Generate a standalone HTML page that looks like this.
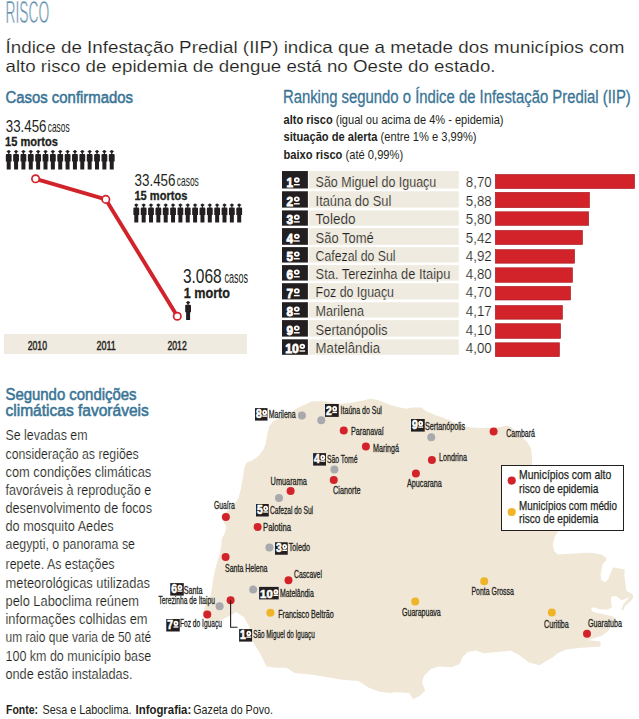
<!DOCTYPE html>
<html><head><meta charset="utf-8"><style>
html,body{margin:0;padding:0;background:#fff;width:639px;height:719px;overflow:hidden}
svg text{font-family:"Liberation Sans", sans-serif}
</style></head><body>
<svg width="639" height="719" viewBox="0 0 639 719" style="position:absolute;left:0;top:0">
<text x="5.5" y="23.2" font-size="31" fill="#5f8dab" textLength="43.8" lengthAdjust="spacingAndGlyphs" stroke="#fff" stroke-width="0.6">RISCO</text><text x="5.5" y="52.7" font-size="16.5" fill="#231f20" textLength="619" lengthAdjust="spacingAndGlyphs" stroke="#fff" stroke-width="0.15">Índice de Infestação Predial (IIP) indica que a metade dos municípios com</text><text x="5.5" y="72" font-size="16.5" fill="#231f20" textLength="490" lengthAdjust="spacingAndGlyphs" stroke="#fff" stroke-width="0.15">alto risco de epidemia de dengue está no Oeste do estado.</text><text x="5.5" y="102.5" font-size="16.8" fill="#3a7596" textLength="127.5" lengthAdjust="spacingAndGlyphs" stroke="#3a7596" stroke-width="0.55">Casos confirmados</text><text x="5.8" y="131.7" font-size="17" fill="#231f20" textLength="40.6" lengthAdjust="spacingAndGlyphs">33.456</text><text x="47.8" y="131.7" font-size="14.8" fill="#231f20" textLength="21.8" lengthAdjust="spacingAndGlyphs">casos</text><text x="5" y="146.3" font-size="12.6" font-weight="bold" fill="#231f20" textLength="53" lengthAdjust="spacingAndGlyphs" stroke="#231f20" stroke-width="0.3">15 mortos</text><text x="134.5" y="186" font-size="17" fill="#231f20" textLength="41" lengthAdjust="spacingAndGlyphs">33.456</text><text x="176.8" y="186" font-size="14.8" fill="#231f20" textLength="22" lengthAdjust="spacingAndGlyphs">casos</text><text x="134.4" y="200" font-size="12.6" font-weight="bold" fill="#231f20" textLength="53" lengthAdjust="spacingAndGlyphs" stroke="#231f20" stroke-width="0.3">15 mortos</text><text x="182.9" y="283" font-size="20.5" fill="#231f20" textLength="38.8" lengthAdjust="spacingAndGlyphs">3.068</text><text x="224.4" y="283" font-size="16.3" fill="#231f20" textLength="23.6" lengthAdjust="spacingAndGlyphs">casos</text><text x="183.75" y="297.8" font-size="15" font-weight="bold" fill="#231f20" textLength="46.25" lengthAdjust="spacingAndGlyphs" stroke="#231f20" stroke-width="0.3">1 morto</text><g fill="#231f20"><circle cx="8.70" cy="151.60" r="1.5"/><rect x="8.10" y="151.60" width="1.2" height="2.50"/><rect x="6.60" y="151.25" width="4.2" height="0.7"/><path d="M5.80 154.90Q5.80 153.90 6.80 153.90H10.60Q11.60 153.90 11.60 154.90V161.40H10.70V169.40H6.70V161.40H5.80Z"/><circle cx="136.30" cy="205.00" r="1.5"/><rect x="135.70" y="205.00" width="1.2" height="2.80"/><rect x="134.20" y="204.65" width="4.2" height="0.7"/><path d="M133.40 208.60Q133.40 207.60 134.40 207.60H138.20Q139.20 207.60 139.20 208.60V215.10H138.30V222.60H134.30V215.10H133.40Z"/><circle cx="16.06" cy="151.60" r="1.5"/><rect x="15.46" y="151.60" width="1.2" height="2.50"/><rect x="13.96" y="151.25" width="4.2" height="0.7"/><path d="M13.16 154.90Q13.16 153.90 14.16 153.90H17.96Q18.96 153.90 18.96 154.90V161.40H18.06V169.40H14.06V161.40H13.16Z"/><circle cx="143.65" cy="205.00" r="1.5"/><rect x="143.05" y="205.00" width="1.2" height="2.80"/><rect x="141.55" y="204.65" width="4.2" height="0.7"/><path d="M140.75 208.60Q140.75 207.60 141.75 207.60H145.55Q146.55 207.60 146.55 208.60V215.10H145.65V222.60H141.65V215.10H140.75Z"/><circle cx="23.42" cy="151.60" r="1.5"/><rect x="22.82" y="151.60" width="1.2" height="2.50"/><rect x="21.32" y="151.25" width="4.2" height="0.7"/><path d="M20.52 154.90Q20.52 153.90 21.52 153.90H25.32Q26.32 153.90 26.32 154.90V161.40H25.42V169.40H21.42V161.40H20.52Z"/><circle cx="151.00" cy="205.00" r="1.5"/><rect x="150.40" y="205.00" width="1.2" height="2.80"/><rect x="148.90" y="204.65" width="4.2" height="0.7"/><path d="M148.10 208.60Q148.10 207.60 149.10 207.60H152.90Q153.90 207.60 153.90 208.60V215.10H153.00V222.60H149.00V215.10H148.10Z"/><circle cx="30.78" cy="151.60" r="1.5"/><rect x="30.18" y="151.60" width="1.2" height="2.50"/><rect x="28.68" y="151.25" width="4.2" height="0.7"/><path d="M27.88 154.90Q27.88 153.90 28.88 153.90H32.68Q33.68 153.90 33.68 154.90V161.40H32.78V169.40H28.78V161.40H27.88Z"/><circle cx="158.35" cy="205.00" r="1.5"/><rect x="157.75" y="205.00" width="1.2" height="2.80"/><rect x="156.25" y="204.65" width="4.2" height="0.7"/><path d="M155.45 208.60Q155.45 207.60 156.45 207.60H160.25Q161.25 207.60 161.25 208.60V215.10H160.35V222.60H156.35V215.10H155.45Z"/><circle cx="38.14" cy="151.60" r="1.5"/><rect x="37.54" y="151.60" width="1.2" height="2.50"/><rect x="36.04" y="151.25" width="4.2" height="0.7"/><path d="M35.24 154.90Q35.24 153.90 36.24 153.90H40.04Q41.04 153.90 41.04 154.90V161.40H40.14V169.40H36.14V161.40H35.24Z"/><circle cx="165.70" cy="205.00" r="1.5"/><rect x="165.10" y="205.00" width="1.2" height="2.80"/><rect x="163.60" y="204.65" width="4.2" height="0.7"/><path d="M162.80 208.60Q162.80 207.60 163.80 207.60H167.60Q168.60 207.60 168.60 208.60V215.10H167.70V222.60H163.70V215.10H162.80Z"/><circle cx="45.50" cy="151.60" r="1.5"/><rect x="44.90" y="151.60" width="1.2" height="2.50"/><rect x="43.40" y="151.25" width="4.2" height="0.7"/><path d="M42.60 154.90Q42.60 153.90 43.60 153.90H47.40Q48.40 153.90 48.40 154.90V161.40H47.50V169.40H43.50V161.40H42.60Z"/><circle cx="173.05" cy="205.00" r="1.5"/><rect x="172.45" y="205.00" width="1.2" height="2.80"/><rect x="170.95" y="204.65" width="4.2" height="0.7"/><path d="M170.15 208.60Q170.15 207.60 171.15 207.60H174.95Q175.95 207.60 175.95 208.60V215.10H175.05V222.60H171.05V215.10H170.15Z"/><circle cx="52.86" cy="151.60" r="1.5"/><rect x="52.26" y="151.60" width="1.2" height="2.50"/><rect x="50.76" y="151.25" width="4.2" height="0.7"/><path d="M49.96 154.90Q49.96 153.90 50.96 153.90H54.76Q55.76 153.90 55.76 154.90V161.40H54.86V169.40H50.86V161.40H49.96Z"/><circle cx="180.40" cy="205.00" r="1.5"/><rect x="179.80" y="205.00" width="1.2" height="2.80"/><rect x="178.30" y="204.65" width="4.2" height="0.7"/><path d="M177.50 208.60Q177.50 207.60 178.50 207.60H182.30Q183.30 207.60 183.30 208.60V215.10H182.40V222.60H178.40V215.10H177.50Z"/><circle cx="60.22" cy="151.60" r="1.5"/><rect x="59.62" y="151.60" width="1.2" height="2.50"/><rect x="58.12" y="151.25" width="4.2" height="0.7"/><path d="M57.32 154.90Q57.32 153.90 58.32 153.90H62.12Q63.12 153.90 63.12 154.90V161.40H62.22V169.40H58.22V161.40H57.32Z"/><circle cx="187.75" cy="205.00" r="1.5"/><rect x="187.15" y="205.00" width="1.2" height="2.80"/><rect x="185.65" y="204.65" width="4.2" height="0.7"/><path d="M184.85 208.60Q184.85 207.60 185.85 207.60H189.65Q190.65 207.60 190.65 208.60V215.10H189.75V222.60H185.75V215.10H184.85Z"/><circle cx="67.58" cy="151.60" r="1.5"/><rect x="66.98" y="151.60" width="1.2" height="2.50"/><rect x="65.48" y="151.25" width="4.2" height="0.7"/><path d="M64.68 154.90Q64.68 153.90 65.68 153.90H69.48Q70.48 153.90 70.48 154.90V161.40H69.58V169.40H65.58V161.40H64.68Z"/><circle cx="195.10" cy="205.00" r="1.5"/><rect x="194.50" y="205.00" width="1.2" height="2.80"/><rect x="193.00" y="204.65" width="4.2" height="0.7"/><path d="M192.20 208.60Q192.20 207.60 193.20 207.60H197.00Q198.00 207.60 198.00 208.60V215.10H197.10V222.60H193.10V215.10H192.20Z"/><circle cx="74.94" cy="151.60" r="1.5"/><rect x="74.34" y="151.60" width="1.2" height="2.50"/><rect x="72.84" y="151.25" width="4.2" height="0.7"/><path d="M72.04 154.90Q72.04 153.90 73.04 153.90H76.84Q77.84 153.90 77.84 154.90V161.40H76.94V169.40H72.94V161.40H72.04Z"/><circle cx="202.45" cy="205.00" r="1.5"/><rect x="201.85" y="205.00" width="1.2" height="2.80"/><rect x="200.35" y="204.65" width="4.2" height="0.7"/><path d="M199.55 208.60Q199.55 207.60 200.55 207.60H204.35Q205.35 207.60 205.35 208.60V215.10H204.45V222.60H200.45V215.10H199.55Z"/><circle cx="82.30" cy="151.60" r="1.5"/><rect x="81.70" y="151.60" width="1.2" height="2.50"/><rect x="80.20" y="151.25" width="4.2" height="0.7"/><path d="M79.40 154.90Q79.40 153.90 80.40 153.90H84.20Q85.20 153.90 85.20 154.90V161.40H84.30V169.40H80.30V161.40H79.40Z"/><circle cx="209.80" cy="205.00" r="1.5"/><rect x="209.20" y="205.00" width="1.2" height="2.80"/><rect x="207.70" y="204.65" width="4.2" height="0.7"/><path d="M206.90 208.60Q206.90 207.60 207.90 207.60H211.70Q212.70 207.60 212.70 208.60V215.10H211.80V222.60H207.80V215.10H206.90Z"/><circle cx="89.66" cy="151.60" r="1.5"/><rect x="89.06" y="151.60" width="1.2" height="2.50"/><rect x="87.56" y="151.25" width="4.2" height="0.7"/><path d="M86.76 154.90Q86.76 153.90 87.76 153.90H91.56Q92.56 153.90 92.56 154.90V161.40H91.66V169.40H87.66V161.40H86.76Z"/><circle cx="217.15" cy="205.00" r="1.5"/><rect x="216.55" y="205.00" width="1.2" height="2.80"/><rect x="215.05" y="204.65" width="4.2" height="0.7"/><path d="M214.25 208.60Q214.25 207.60 215.25 207.60H219.05Q220.05 207.60 220.05 208.60V215.10H219.15V222.60H215.15V215.10H214.25Z"/><circle cx="97.02" cy="151.60" r="1.5"/><rect x="96.42" y="151.60" width="1.2" height="2.50"/><rect x="94.92" y="151.25" width="4.2" height="0.7"/><path d="M94.12 154.90Q94.12 153.90 95.12 153.90H98.92Q99.92 153.90 99.92 154.90V161.40H99.02V169.40H95.02V161.40H94.12Z"/><circle cx="224.50" cy="205.00" r="1.5"/><rect x="223.90" y="205.00" width="1.2" height="2.80"/><rect x="222.40" y="204.65" width="4.2" height="0.7"/><path d="M221.60 208.60Q221.60 207.60 222.60 207.60H226.40Q227.40 207.60 227.40 208.60V215.10H226.50V222.60H222.50V215.10H221.60Z"/><circle cx="104.38" cy="151.60" r="1.5"/><rect x="103.78" y="151.60" width="1.2" height="2.50"/><rect x="102.28" y="151.25" width="4.2" height="0.7"/><path d="M101.48 154.90Q101.48 153.90 102.48 153.90H106.28Q107.28 153.90 107.28 154.90V161.40H106.38V169.40H102.38V161.40H101.48Z"/><circle cx="231.85" cy="205.00" r="1.5"/><rect x="231.25" y="205.00" width="1.2" height="2.80"/><rect x="229.75" y="204.65" width="4.2" height="0.7"/><path d="M228.95 208.60Q228.95 207.60 229.95 207.60H233.75Q234.75 207.60 234.75 208.60V215.10H233.85V222.60H229.85V215.10H228.95Z"/><circle cx="111.74" cy="151.60" r="1.5"/><rect x="111.14" y="151.60" width="1.2" height="2.50"/><rect x="109.64" y="151.25" width="4.2" height="0.7"/><path d="M108.84 154.90Q108.84 153.90 109.84 153.90H113.64Q114.64 153.90 114.64 154.90V161.40H113.74V169.40H109.74V161.40H108.84Z"/><circle cx="239.20" cy="205.00" r="1.5"/><rect x="238.60" y="205.00" width="1.2" height="2.80"/><rect x="237.10" y="204.65" width="4.2" height="0.7"/><path d="M236.30 208.60Q236.30 207.60 237.30 207.60H241.10Q242.10 207.60 242.10 208.60V215.10H241.20V222.60H237.20V215.10H236.30Z"/><circle cx="188.10" cy="302.50" r="1.5"/><rect x="187.50" y="302.50" width="1.2" height="2.45"/><rect x="186.00" y="302.15" width="4.2" height="0.7"/><path d="M185.20 305.75Q185.20 304.75 186.20 304.75H190.00Q191.00 304.75 191.00 305.75V312.25H190.10V320.00H186.10V312.25H185.20Z"/></g><polyline points="35.6,178.8 105.8,199.4 177.3,316.25" fill="none" stroke="#d2232a" stroke-width="3.9" stroke-linejoin="round"/><circle cx="35.6" cy="178.8" r="3.7" fill="#fff" stroke="#d2232a" stroke-width="1.7"/><circle cx="105.8" cy="199.4" r="3.7" fill="#fff" stroke="#d2232a" stroke-width="1.7"/><circle cx="177.3" cy="316.25" r="3.7" fill="#fff" stroke="#d2232a" stroke-width="1.7"/><rect x="4" y="334" width="243" height="20" fill="#f0ebe0"/><text x="27.7" y="350.2" font-size="13.6" fill="#231f20" textLength="19.3" lengthAdjust="spacingAndGlyphs" stroke="#231f20" stroke-width="0.5">2010</text><text x="96.5" y="350.2" font-size="13.6" fill="#231f20" textLength="19.3" lengthAdjust="spacingAndGlyphs" stroke="#231f20" stroke-width="0.5">2011</text><text x="167.5" y="350.2" font-size="13.6" fill="#231f20" textLength="19.2" lengthAdjust="spacingAndGlyphs" stroke="#231f20" stroke-width="0.5">2012</text><text x="282.9" y="103.3" font-size="17.5" fill="#3a7596" textLength="347.9" lengthAdjust="spacingAndGlyphs" stroke="#3a7596" stroke-width="0.3">Ranking segundo o Índice de Infestação Predial (IIP)</text><text x="283.5" y="123.9" font-size="12.4" fill="#231f20" textLength="220" lengthAdjust="spacingAndGlyphs"><tspan font-weight="bold">alto risco</tspan> (igual ou acima de 4% - epidemia)</text><text x="283.5" y="141.3" font-size="12.4" fill="#231f20" textLength="193" lengthAdjust="spacingAndGlyphs"><tspan font-weight="bold">situação de alerta</tspan> (entre 1% e 3,99%)</text><text x="283.5" y="158.8" font-size="12.4" fill="#231f20" textLength="119.7" lengthAdjust="spacingAndGlyphs"><tspan font-weight="bold">baixo risco</tspan> (até 0,99%)</text><rect x="282" y="171.05" width="25.9" height="17.45" fill="#231f20"/><rect x="308.8" y="171.05" width="150" height="17.45" fill="#f0ebe0"/><text x="286.60" y="186.90" font-size="13.43" font-weight="bold" fill="#fff" stroke="#fff" stroke-width="0.8" textLength="6.6" lengthAdjust="spacingAndGlyphs">1</text><ellipse cx="296.80" cy="180.00" rx="2.00" ry="1.75" fill="none" stroke="#fff" stroke-width="1.8"/><rect x="293.90" y="184.00" width="5.80" height="1.4" fill="#fff"/><text x="315.6" y="186.50" font-size="15.4" fill="#231f20" textLength="120.7" lengthAdjust="spacingAndGlyphs" stroke="#f0ebe0" stroke-width="0.2">São Miguel do Iguaçu</text><text x="465.8" y="186.50" font-size="15.4" fill="#231f20" textLength="26" lengthAdjust="spacingAndGlyphs" stroke="#fff" stroke-width="0.2">8,70</text><rect x="495.3" y="174.40" width="139.3" height="14.20" fill="#d2232a" stroke="#a51c22" stroke-width="0.6"/><rect x="282" y="191.26" width="25.9" height="16.34" fill="#231f20"/><rect x="308.8" y="191.26" width="150" height="16.34" fill="#f0ebe0"/><text x="286.60" y="206.00" font-size="13.43" font-weight="bold" fill="#fff" stroke="#fff" stroke-width="0.8" textLength="6.6" lengthAdjust="spacingAndGlyphs">2</text><ellipse cx="296.80" cy="199.10" rx="2.00" ry="1.75" fill="none" stroke="#fff" stroke-width="1.8"/><rect x="293.90" y="203.10" width="5.80" height="1.4" fill="#fff"/><text x="315.6" y="205.60" font-size="15.4" fill="#231f20" textLength="75.7" lengthAdjust="spacingAndGlyphs" stroke="#f0ebe0" stroke-width="0.2">Itaúna do Sul</text><text x="465.8" y="205.60" font-size="15.4" fill="#231f20" textLength="26" lengthAdjust="spacingAndGlyphs" stroke="#fff" stroke-width="0.2">5,88</text><rect x="495.3" y="192.30" width="94.2" height="15.40" fill="#d2232a" stroke="#a51c22" stroke-width="0.6"/><rect x="282" y="210.40" width="25.9" height="15.30" fill="#231f20"/><rect x="308.8" y="210.40" width="150" height="15.30" fill="#f0ebe0"/><text x="286.60" y="224.10" font-size="13.43" font-weight="bold" fill="#fff" stroke="#fff" stroke-width="0.8" textLength="6.6" lengthAdjust="spacingAndGlyphs">3</text><ellipse cx="296.80" cy="217.20" rx="2.00" ry="1.75" fill="none" stroke="#fff" stroke-width="1.8"/><rect x="293.90" y="221.20" width="5.80" height="1.4" fill="#fff"/><text x="315.6" y="223.70" font-size="15.4" fill="#231f20" textLength="39.9" lengthAdjust="spacingAndGlyphs" stroke="#f0ebe0" stroke-width="0.2">Toledo</text><text x="465.8" y="223.70" font-size="15.4" fill="#231f20" textLength="26" lengthAdjust="spacingAndGlyphs" stroke="#fff" stroke-width="0.2">5,80</text><rect x="495.3" y="211.80" width="93.4" height="13.60" fill="#d2232a" stroke="#a51c22" stroke-width="0.6"/><rect x="282" y="228.10" width="25.9" height="16.70" fill="#231f20"/><rect x="308.8" y="228.10" width="150" height="16.70" fill="#f0ebe0"/><text x="286.60" y="243.20" font-size="13.43" font-weight="bold" fill="#fff" stroke="#fff" stroke-width="0.8" textLength="6.6" lengthAdjust="spacingAndGlyphs">4</text><ellipse cx="296.80" cy="236.30" rx="2.00" ry="1.75" fill="none" stroke="#fff" stroke-width="1.8"/><rect x="293.90" y="240.30" width="5.80" height="1.4" fill="#fff"/><text x="315.6" y="242.80" font-size="15.4" fill="#231f20" textLength="58.2" lengthAdjust="spacingAndGlyphs" stroke="#f0ebe0" stroke-width="0.2">São Tomé</text><text x="465.8" y="242.80" font-size="15.4" fill="#231f20" textLength="26" lengthAdjust="spacingAndGlyphs" stroke="#fff" stroke-width="0.2">5,42</text><rect x="495.3" y="230.40" width="87.2" height="14.20" fill="#d2232a" stroke="#a51c22" stroke-width="0.6"/><rect x="282" y="247.10" width="25.9" height="15.45" fill="#231f20"/><rect x="308.8" y="247.10" width="150" height="15.45" fill="#f0ebe0"/><text x="286.60" y="260.95" font-size="13.43" font-weight="bold" fill="#fff" stroke="#fff" stroke-width="0.8" textLength="6.6" lengthAdjust="spacingAndGlyphs">5</text><ellipse cx="296.80" cy="254.05" rx="2.00" ry="1.75" fill="none" stroke="#fff" stroke-width="1.8"/><rect x="293.90" y="258.05" width="5.80" height="1.4" fill="#fff"/><text x="315.6" y="260.55" font-size="15.4" fill="#231f20" textLength="79.9" lengthAdjust="spacingAndGlyphs" stroke="#f0ebe0" stroke-width="0.2">Cafezal do Sul</text><text x="465.8" y="260.55" font-size="15.4" fill="#231f20" textLength="26" lengthAdjust="spacingAndGlyphs" stroke="#fff" stroke-width="0.2">4,92</text><rect x="495.3" y="249.60" width="79.3" height="13.60" fill="#d2232a" stroke="#a51c22" stroke-width="0.6"/><rect x="282" y="265.10" width="25.9" height="15.50" fill="#231f20"/><rect x="308.8" y="265.10" width="150" height="15.50" fill="#f0ebe0"/><text x="286.60" y="279.00" font-size="13.43" font-weight="bold" fill="#fff" stroke="#fff" stroke-width="0.8" textLength="6.6" lengthAdjust="spacingAndGlyphs">6</text><ellipse cx="296.80" cy="272.10" rx="2.00" ry="1.75" fill="none" stroke="#fff" stroke-width="1.8"/><rect x="293.90" y="276.10" width="5.80" height="1.4" fill="#fff"/><text x="315.6" y="278.60" font-size="15.4" fill="#231f20" textLength="134.8" lengthAdjust="spacingAndGlyphs" stroke="#f0ebe0" stroke-width="0.2">Sta. Terezinha de Itaipu</text><text x="465.8" y="278.60" font-size="15.4" fill="#231f20" textLength="26" lengthAdjust="spacingAndGlyphs" stroke="#fff" stroke-width="0.2">4,80</text><rect x="495.3" y="267.80" width="77.2" height="14.50" fill="#d2232a" stroke="#a51c22" stroke-width="0.6"/><rect x="282" y="283.20" width="25.9" height="16.20" fill="#231f20"/><rect x="308.8" y="283.20" width="150" height="16.20" fill="#f0ebe0"/><text x="286.60" y="297.80" font-size="13.43" font-weight="bold" fill="#fff" stroke="#fff" stroke-width="0.8" textLength="6.6" lengthAdjust="spacingAndGlyphs">7</text><ellipse cx="296.80" cy="290.90" rx="2.00" ry="1.75" fill="none" stroke="#fff" stroke-width="1.8"/><rect x="293.90" y="294.90" width="5.80" height="1.4" fill="#fff"/><text x="315.6" y="297.40" font-size="15.4" fill="#231f20" textLength="78.4" lengthAdjust="spacingAndGlyphs" stroke="#f0ebe0" stroke-width="0.2">Foz do Iguaçu</text><text x="465.8" y="297.40" font-size="15.4" fill="#231f20" textLength="26" lengthAdjust="spacingAndGlyphs" stroke="#fff" stroke-width="0.2">4,70</text><rect x="495.3" y="286.40" width="75.3" height="13.60" fill="#d2232a" stroke="#a51c22" stroke-width="0.6"/><rect x="282" y="302.20" width="25.9" height="15.40" fill="#231f20"/><rect x="308.8" y="302.20" width="150" height="15.40" fill="#f0ebe0"/><text x="286.60" y="316.00" font-size="13.43" font-weight="bold" fill="#fff" stroke="#fff" stroke-width="0.8" textLength="6.6" lengthAdjust="spacingAndGlyphs">8</text><ellipse cx="296.80" cy="309.10" rx="2.00" ry="1.75" fill="none" stroke="#fff" stroke-width="1.8"/><rect x="293.90" y="313.10" width="5.80" height="1.4" fill="#fff"/><text x="315.6" y="315.60" font-size="15.4" fill="#231f20" textLength="48.4" lengthAdjust="spacingAndGlyphs" stroke="#f0ebe0" stroke-width="0.2">Marilena</text><text x="465.8" y="315.60" font-size="15.4" fill="#231f20" textLength="26" lengthAdjust="spacingAndGlyphs" stroke="#fff" stroke-width="0.2">4,17</text><rect x="495.3" y="305.50" width="67.2" height="13.70" fill="#d2232a" stroke="#a51c22" stroke-width="0.6"/><rect x="282" y="320.10" width="25.9" height="16.50" fill="#231f20"/><rect x="308.8" y="320.10" width="150" height="16.50" fill="#f0ebe0"/><text x="286.60" y="335.00" font-size="13.43" font-weight="bold" fill="#fff" stroke="#fff" stroke-width="0.8" textLength="6.6" lengthAdjust="spacingAndGlyphs">9</text><ellipse cx="296.80" cy="328.10" rx="2.00" ry="1.75" fill="none" stroke="#fff" stroke-width="1.8"/><rect x="293.90" y="332.10" width="5.80" height="1.4" fill="#fff"/><text x="315.6" y="334.60" font-size="15.4" fill="#231f20" textLength="72.0" lengthAdjust="spacingAndGlyphs" stroke="#f0ebe0" stroke-width="0.2">Sertanópolis</text><text x="465.8" y="334.60" font-size="15.4" fill="#231f20" textLength="26" lengthAdjust="spacingAndGlyphs" stroke="#fff" stroke-width="0.2">4,10</text><rect x="495.3" y="323.70" width="65.3" height="14.70" fill="#d2232a" stroke="#a51c22" stroke-width="0.6"/><rect x="282" y="339.30" width="25.9" height="15.50" fill="#231f20"/><rect x="308.8" y="339.30" width="150" height="15.50" fill="#f0ebe0"/><text x="285.30" y="353.20" font-size="13.43" font-weight="bold" fill="#fff" stroke="#fff" stroke-width="0.8" textLength="13.6" lengthAdjust="spacingAndGlyphs">10</text><ellipse cx="302.30" cy="346.30" rx="1.90" ry="1.75" fill="none" stroke="#fff" stroke-width="1.8"/><rect x="299.50" y="350.30" width="5.60" height="1.4" fill="#fff"/><text x="315.6" y="352.80" font-size="15.4" fill="#231f20" textLength="64.4" lengthAdjust="spacingAndGlyphs" stroke="#f0ebe0" stroke-width="0.2">Matelândia</text><text x="465.8" y="352.80" font-size="15.4" fill="#231f20" textLength="26" lengthAdjust="spacingAndGlyphs" stroke="#fff" stroke-width="0.2">4,00</text><rect x="495.3" y="342.80" width="64.2" height="13.90" fill="#d2232a" stroke="#a51c22" stroke-width="0.6"/><text x="5.5" y="399.5" font-size="15.8" fill="#3a7596" textLength="131" lengthAdjust="spacingAndGlyphs" stroke="#3a7596" stroke-width="0.55">Segundo condições</text><text x="5.5" y="416.25" font-size="15.8" fill="#3a7596" textLength="143.3" lengthAdjust="spacingAndGlyphs" stroke="#3a7596" stroke-width="0.55">climáticas favoráveis</text><text x="5.5" y="440.0" font-size="15.2" fill="#231f20" textLength="82" lengthAdjust="spacingAndGlyphs" stroke="#fff" stroke-width="0.18">Se levadas em</text><text x="5.5" y="458.5" font-size="15.2" fill="#231f20" textLength="133.2" lengthAdjust="spacingAndGlyphs" stroke="#fff" stroke-width="0.18">consideração as regiões</text><text x="5.5" y="476.75" font-size="15.2" fill="#231f20" textLength="145.7" lengthAdjust="spacingAndGlyphs" stroke="#fff" stroke-width="0.18">com condições climáticas</text><text x="5.5" y="494.75" font-size="15.2" fill="#231f20" textLength="145.7" lengthAdjust="spacingAndGlyphs" stroke="#fff" stroke-width="0.18">favoráveis à reprodução e</text><text x="5.5" y="513.0" font-size="15.2" fill="#231f20" textLength="146.5" lengthAdjust="spacingAndGlyphs" stroke="#fff" stroke-width="0.18">desenvolvimento de focos</text><text x="5.5" y="531.0" font-size="15.2" fill="#231f20" textLength="108.2" lengthAdjust="spacingAndGlyphs" stroke="#fff" stroke-width="0.18">do mosquito Aedes</text><text x="5.5" y="549.25" font-size="15.2" fill="#231f20" textLength="129.5" lengthAdjust="spacingAndGlyphs" stroke="#fff" stroke-width="0.18">aegypti, o panorama se</text><text x="5.5" y="569.25" font-size="15.2" fill="#231f20" textLength="109" lengthAdjust="spacingAndGlyphs" stroke="#fff" stroke-width="0.18">repete. As estações</text><text x="5.5" y="587.5" font-size="15.2" fill="#231f20" textLength="144.5" lengthAdjust="spacingAndGlyphs" stroke="#fff" stroke-width="0.18">meteorológicas utilizadas</text><text x="5.5" y="605.5" font-size="15.2" fill="#231f20" textLength="133.5" lengthAdjust="spacingAndGlyphs" stroke="#fff" stroke-width="0.18">pelo Laboclima reúnem</text><text x="5.5" y="623.5" font-size="15.2" fill="#231f20" textLength="142" lengthAdjust="spacingAndGlyphs" stroke="#fff" stroke-width="0.18">informações colhidas em</text><text x="5.5" y="642.25" font-size="15.2" fill="#231f20" textLength="145.7" lengthAdjust="spacingAndGlyphs" stroke="#fff" stroke-width="0.18">um raio que varia de 50 até</text><text x="5.5" y="660.5" font-size="15.2" fill="#231f20" textLength="145.7" lengthAdjust="spacingAndGlyphs" stroke="#fff" stroke-width="0.18">100 km do município base</text><text x="5.5" y="678.5" font-size="15.2" fill="#231f20" textLength="127" lengthAdjust="spacingAndGlyphs" stroke="#fff" stroke-width="0.18">onde estão instaladas.</text><text x="6" y="713.5" font-size="13" fill="#231f20"><tspan font-weight="bold" textLength="32" lengthAdjust="spacingAndGlyphs">Fonte:</tspan></text><text x="42.5" y="713.5" font-size="13" fill="#231f20" textLength="89" lengthAdjust="spacingAndGlyphs">Sesa e Laboclima.</text><text x="135.5" y="713.5" font-size="13" font-weight="bold" fill="#231f20" textLength="55.75" lengthAdjust="spacingAndGlyphs">Infografia:</text><text x="193.25" y="713.5" font-size="13" fill="#231f20" textLength="79.75" lengthAdjust="spacingAndGlyphs">Gazeta do Povo.</text><polygon points="246.3,462.7 252,460.6 259,455.6 263.2,450 265.7,443.8 267.6,432.6 269.4,426 273.2,421.3 282.6,416.6 290,412.5 295.7,409 305,404.4 312.5,401.3 322.5,401.3 340,403.8 352.6,402.5 365.2,400 370.2,398.8 377.7,400 390.3,405 400,407.5 406.3,408.8 412.5,407.5 421.3,407.5 426.3,411.3 435,415 442.5,417.5 450,420.6 460,425 470,427.5 480,428.1 489.2,428.1 500.2,427 506.8,425.4 511.1,427 518.8,434.7 526.5,441.3 530.9,447.9 532,457.6 532,466 556,528 558.1,530.9 554.5,537.2 552.7,544.5 554.5,551.7 558.1,554.4 576.2,553.5 585,552.7 593.5,553.1 601.9,554.8 606.6,558.2 606.1,560.7 602.8,563.7 600.6,573.8 601.1,579.7 605.3,582.3 608.2,578.9 612.9,567.5 624.7,569.2 624.3,575.5 626.4,590.7 632.3,594.1 633.5,596.8 631.1,600.8 627.1,604 624.3,607.2 623.5,610 621.5,610.5 623,605 629.5,597.3 621.5,600.3 615.9,596 611.1,596.8 611.1,602.4 612,607.2 608,609.5 600,609.5 593.6,607.2 591.2,608 592,611.1 596,612.7 604,614.3 614.4,617 612.9,623.3 608.2,631 602,635.7 594.3,638 588.1,640.3 600.5,641.5 600.5,646.5 578.8,648 566.4,649.6 558.6,652.7 552.4,657.4 544.7,662 539.6,665.2 528.9,662.6 518.3,654.6 510.3,650.6 497,651.9 483.7,653.2 475.7,650.6 467.8,651.9 462.4,657.2 459.8,663.9 451.8,667.3 438.5,666.5 430.5,669.2 423.9,675.9 422,682.5 425.2,690.5 419.9,695.8 413.2,699.3 409.3,693.1 396,692.3 390,693.1 379.6,691.8 368.9,687.8 358.3,681.1 342.3,679.8 326.4,677.1 310.4,674.5 294.5,673.1 286.5,667.8 275.9,667.8 266.5,666.5 259.9,653.2 251.9,639.9 249.3,626.6 244,617.3 236,612 229.2,616.1 223.5,618.9 216.5,621.7 210.8,621 205.2,618.9 202.4,613.2 205.2,606.2 210.8,594.9 213.1,580 214.4,573.8 216.3,565 220,552.5 221.3,545 221.9,538.8 225,532.5 226.3,526.3 222.5,520 223.8,513.75 230,508.75 236.3,501.3 238.6,497.9 240.7,489.4 242.8,478.2 244.2,468.3" fill="#f0e7d7"/><circle cx="343.75" cy="430.6" r="4.0" fill="#d2232a"/><circle cx="365.9" cy="446.5" r="4.0" fill="#d2232a"/><circle cx="333.75" cy="480" r="4.0" fill="#d2232a"/><circle cx="431.9" cy="460" r="4.0" fill="#d2232a"/><circle cx="415.9" cy="473.5" r="4.0" fill="#d2232a"/><circle cx="493.6" cy="431.4" r="4.0" fill="#d2232a"/><circle cx="290.6" cy="491" r="4.0" fill="#d2232a"/><circle cx="225.9" cy="516.9" r="4.0" fill="#d2232a"/><circle cx="257.6" cy="526.9" r="4.0" fill="#d2232a"/><circle cx="225.6" cy="557.1" r="4.0" fill="#d2232a"/><circle cx="288.5" cy="580.25" r="4.0" fill="#d2232a"/><circle cx="207.25" cy="614.4" r="4.0" fill="#d2232a"/><circle cx="230.6" cy="600.2" r="4.0" fill="#d2232a"/><circle cx="587" cy="633.7" r="4.0" fill="#d2232a"/><circle cx="301.9" cy="415.6" r="4.0" fill="#a7a9ac"/><circle cx="321.25" cy="420.25" r="4.0" fill="#a7a9ac"/><circle cx="334.4" cy="469.4" r="4.0" fill="#a7a9ac"/><circle cx="431.25" cy="437.25" r="4.0" fill="#a7a9ac"/><circle cx="279" cy="498.1" r="4.0" fill="#a7a9ac"/><circle cx="269.4" cy="547.4" r="4.0" fill="#a7a9ac"/><circle cx="253.2" cy="589.6" r="4.0" fill="#a7a9ac"/><circle cx="219.6" cy="606.2" r="4.0" fill="#a7a9ac"/><circle cx="270.4" cy="612.7" r="4.0" fill="#f0b428"/><circle cx="415.2" cy="601.6" r="4.0" fill="#f0b428"/><circle cx="484.2" cy="581.25" r="4.0" fill="#f0b428"/><circle cx="551.8" cy="612.6" r="4.0" fill="#f0b428"/><polyline points="230.6,600.2 230.6,627.2 237.5,627.2" fill="none" stroke="#231f20" stroke-width="1.1"/><text x="268.75" y="418.0" font-size="10.4" fill="#231f20" textLength="26.85" lengthAdjust="spacingAndGlyphs" stroke="#231f20" stroke-width="0.3">Marilena</text><text x="340.6" y="414.25" font-size="10.4" fill="#231f20" textLength="41.3" lengthAdjust="spacingAndGlyphs" stroke="#231f20" stroke-width="0.3">Itaúna do Sul</text><text x="351" y="434.5" font-size="10.4" fill="#231f20" textLength="32.75" lengthAdjust="spacingAndGlyphs" stroke="#231f20" stroke-width="0.3">Paranavaí</text><text x="373.1" y="452.0" font-size="10.4" fill="#231f20" textLength="25.9" lengthAdjust="spacingAndGlyphs" stroke="#231f20" stroke-width="0.3">Maringá</text><text x="326.9" y="462.75" font-size="10.4" fill="#231f20" textLength="30.6" lengthAdjust="spacingAndGlyphs" stroke="#231f20" stroke-width="0.3">São Tomé</text><text x="333.1" y="493.6" font-size="10.4" fill="#231f20" textLength="27.5" lengthAdjust="spacingAndGlyphs" stroke="#231f20" stroke-width="0.3">Cianorte</text><text x="425" y="429.9" font-size="10.4" fill="#231f20" textLength="40" lengthAdjust="spacingAndGlyphs" stroke="#231f20" stroke-width="0.3">Sertanópolis</text><text x="439" y="461.1" font-size="10.4" fill="#231f20" textLength="27.9" lengthAdjust="spacingAndGlyphs" stroke="#231f20" stroke-width="0.3">Londrina</text><text x="406.9" y="486.75" font-size="10.4" fill="#231f20" textLength="35.0" lengthAdjust="spacingAndGlyphs" stroke="#231f20" stroke-width="0.3">Apucarana</text><text x="506.2" y="436.9" font-size="10.4" fill="#231f20" textLength="28.8" lengthAdjust="spacingAndGlyphs" stroke="#231f20" stroke-width="0.3">Cambará</text><text x="270.6" y="485.25" font-size="10.4" fill="#231f20" textLength="36.3" lengthAdjust="spacingAndGlyphs" stroke="#231f20" stroke-width="0.3">Umuarama</text><text x="270" y="514.0" font-size="10.4" fill="#231f20" textLength="43.1" lengthAdjust="spacingAndGlyphs" stroke="#231f20" stroke-width="0.3">Cafezal do Sul</text><text x="263.1" y="530.75" font-size="10.4" fill="#231f20" textLength="27.9" lengthAdjust="spacingAndGlyphs" stroke="#231f20" stroke-width="0.3">Palotina</text><text x="214" y="508.6" font-size="10.4" fill="#231f20" textLength="20.75" lengthAdjust="spacingAndGlyphs" stroke="#231f20" stroke-width="0.3">Guaíra</text><text x="225" y="571.75" font-size="10.4" fill="#231f20" textLength="42.5" lengthAdjust="spacingAndGlyphs" stroke="#231f20" stroke-width="0.3">Santa Helena</text><text x="288.75" y="551.1" font-size="10.4" fill="#231f20" textLength="21.25" lengthAdjust="spacingAndGlyphs" stroke="#231f20" stroke-width="0.3">Toledo</text><text x="294" y="578.0" font-size="10.4" fill="#231f20" textLength="27.9" lengthAdjust="spacingAndGlyphs" stroke="#231f20" stroke-width="0.3">Cascavel</text><text x="280" y="597.4" font-size="10.4" fill="#231f20" textLength="33.75" lengthAdjust="spacingAndGlyphs" stroke="#231f20" stroke-width="0.3">Matelândia</text><text x="183.75" y="594.0" font-size="10.4" fill="#231f20" textLength="18.75" lengthAdjust="spacingAndGlyphs" stroke="#231f20" stroke-width="0.3">Santa</text><text x="158.5" y="604.0" font-size="10.4" fill="#231f20" textLength="56.5" lengthAdjust="spacingAndGlyphs" stroke="#231f20" stroke-width="0.3">Terezinha de Itaipu</text><text x="180" y="627.4" font-size="10.4" fill="#231f20" textLength="41.9" lengthAdjust="spacingAndGlyphs" stroke="#231f20" stroke-width="0.3">Foz do Iguaçu</text><text x="253.2" y="637.5" font-size="10.4" fill="#231f20" textLength="61.5" lengthAdjust="spacingAndGlyphs" stroke="#231f20" stroke-width="0.3">São Miguel do Iguaçu</text><text x="278.2" y="617.5" font-size="10.4" fill="#231f20" textLength="55.5" lengthAdjust="spacingAndGlyphs" stroke="#231f20" stroke-width="0.3">Francisco Beltrão</text><text x="471.5" y="595.1" font-size="10.4" fill="#231f20" textLength="42.3" lengthAdjust="spacingAndGlyphs" stroke="#231f20" stroke-width="0.3">Ponta Grossa</text><text x="402" y="616.4" font-size="10.4" fill="#231f20" textLength="38.8" lengthAdjust="spacingAndGlyphs" stroke="#231f20" stroke-width="0.3">Guarapuava</text><text x="544.1" y="627.9" font-size="10.4" fill="#231f20" textLength="24.6" lengthAdjust="spacingAndGlyphs" stroke="#231f20" stroke-width="0.3">Curitiba</text><text x="588" y="627.2" font-size="10.4" fill="#231f20" textLength="33.9" lengthAdjust="spacingAndGlyphs" stroke="#231f20" stroke-width="0.3">Guaratuba</text><rect x="255" y="408.1" width="12.50" height="12.50" fill="#231f20"/><text x="255.90" y="418.30" font-size="12.00" font-weight="bold" fill="#fff" stroke="#fff" stroke-width="0.6" textLength="5.8" lengthAdjust="spacingAndGlyphs">8</text><ellipse cx="264.70" cy="412.40" rx="1.50" ry="1.75" fill="none" stroke="#fff" stroke-width="1.8"/><rect x="262.30" y="415.40" width="4.80" height="1.4" fill="#fff"/><rect x="325" y="404" width="13.75" height="12.90" fill="#231f20"/><text x="325.90" y="414.60" font-size="12.00" font-weight="bold" fill="#fff" stroke="#fff" stroke-width="0.6" textLength="5.8" lengthAdjust="spacingAndGlyphs">2</text><ellipse cx="334.70" cy="408.70" rx="1.50" ry="1.75" fill="none" stroke="#fff" stroke-width="1.8"/><rect x="332.30" y="411.70" width="4.80" height="1.4" fill="#fff"/><rect x="313.1" y="453.1" width="12.90" height="12.50" fill="#231f20"/><text x="314.00" y="463.30" font-size="12.00" font-weight="bold" fill="#fff" stroke="#fff" stroke-width="0.6" textLength="5.8" lengthAdjust="spacingAndGlyphs">4</text><ellipse cx="322.80" cy="457.40" rx="1.50" ry="1.75" fill="none" stroke="#fff" stroke-width="1.8"/><rect x="320.40" y="460.40" width="4.80" height="1.4" fill="#fff"/><rect x="411" y="419" width="13.75" height="12.60" fill="#231f20"/><text x="411.90" y="429.30" font-size="12.00" font-weight="bold" fill="#fff" stroke="#fff" stroke-width="0.6" textLength="5.8" lengthAdjust="spacingAndGlyphs">9</text><ellipse cx="420.70" cy="423.40" rx="1.50" ry="1.75" fill="none" stroke="#fff" stroke-width="1.8"/><rect x="418.30" y="426.40" width="4.80" height="1.4" fill="#fff"/><rect x="256" y="504" width="12.75" height="12.50" fill="#231f20"/><text x="256.90" y="514.20" font-size="12.00" font-weight="bold" fill="#fff" stroke="#fff" stroke-width="0.6" textLength="5.8" lengthAdjust="spacingAndGlyphs">5</text><ellipse cx="265.70" cy="508.30" rx="1.50" ry="1.75" fill="none" stroke="#fff" stroke-width="1.8"/><rect x="263.30" y="511.30" width="4.80" height="1.4" fill="#fff"/><rect x="275" y="542.25" width="12.75" height="12.50" fill="#231f20"/><text x="275.90" y="552.45" font-size="12.00" font-weight="bold" fill="#fff" stroke="#fff" stroke-width="0.6" textLength="5.8" lengthAdjust="spacingAndGlyphs">3</text><ellipse cx="284.70" cy="546.55" rx="1.50" ry="1.75" fill="none" stroke="#fff" stroke-width="1.8"/><rect x="282.30" y="549.55" width="4.80" height="1.4" fill="#fff"/><rect x="259.1" y="586.9" width="19.60" height="12.50" fill="#231f20"/><text x="260.10" y="597.50" font-size="11.71" font-weight="bold" fill="#fff" stroke="#fff" stroke-width="0.6" textLength="12.6" lengthAdjust="spacingAndGlyphs">10</text><ellipse cx="275.90" cy="591.80" rx="1.50" ry="1.75" fill="none" stroke="#fff" stroke-width="1.8"/><rect x="273.50" y="594.60" width="4.80" height="1.4" fill="#fff"/><rect x="170.25" y="583.1" width="13.50" height="12.50" fill="#231f20"/><text x="171.15" y="593.30" font-size="12.00" font-weight="bold" fill="#fff" stroke="#fff" stroke-width="0.6" textLength="5.8" lengthAdjust="spacingAndGlyphs">6</text><ellipse cx="179.95" cy="587.40" rx="1.50" ry="1.75" fill="none" stroke="#fff" stroke-width="1.8"/><rect x="177.55" y="590.40" width="4.80" height="1.4" fill="#fff"/><rect x="166.25" y="619" width="13.50" height="12.50" fill="#231f20"/><text x="167.15" y="629.20" font-size="12.00" font-weight="bold" fill="#fff" stroke="#fff" stroke-width="0.6" textLength="5.8" lengthAdjust="spacingAndGlyphs">7</text><ellipse cx="175.95" cy="623.30" rx="1.50" ry="1.75" fill="none" stroke="#fff" stroke-width="1.8"/><rect x="173.55" y="626.30" width="4.80" height="1.4" fill="#fff"/><rect x="239.1" y="629.1" width="13.00" height="12.50" fill="#231f20"/><text x="240.00" y="639.30" font-size="12.00" font-weight="bold" fill="#fff" stroke="#fff" stroke-width="0.6" textLength="5.8" lengthAdjust="spacingAndGlyphs">1</text><ellipse cx="248.80" cy="633.40" rx="1.50" ry="1.75" fill="none" stroke="#fff" stroke-width="1.8"/><rect x="246.40" y="636.40" width="4.80" height="1.4" fill="#fff"/><rect x="501.5" y="465.5" width="122" height="65" fill="#fff" stroke="#231f20" stroke-width="1"/><circle cx="511.7" cy="480.6" r="4.1" fill="#d2232a"/><circle cx="511.7" cy="512.0" r="4.1" fill="#f0b428"/><text x="519.1" y="479.1" font-size="12.6" fill="#231f20" textLength="92.1" lengthAdjust="spacingAndGlyphs" stroke="#231f20" stroke-width="0.25">Municípios com alto</text><text x="519.1" y="492.7" font-size="12.6" fill="#231f20" textLength="79.3" lengthAdjust="spacingAndGlyphs" stroke="#231f20" stroke-width="0.25">risco de epidemia</text><text x="519.1" y="510.1" font-size="12.6" fill="#231f20" textLength="97.9" lengthAdjust="spacingAndGlyphs" stroke="#231f20" stroke-width="0.25">Municípios com médio</text><text x="519.1" y="523.4" font-size="12.6" fill="#231f20" textLength="79.3" lengthAdjust="spacingAndGlyphs" stroke="#231f20" stroke-width="0.25">risco de epidemia</text>
</svg>
</body></html>
